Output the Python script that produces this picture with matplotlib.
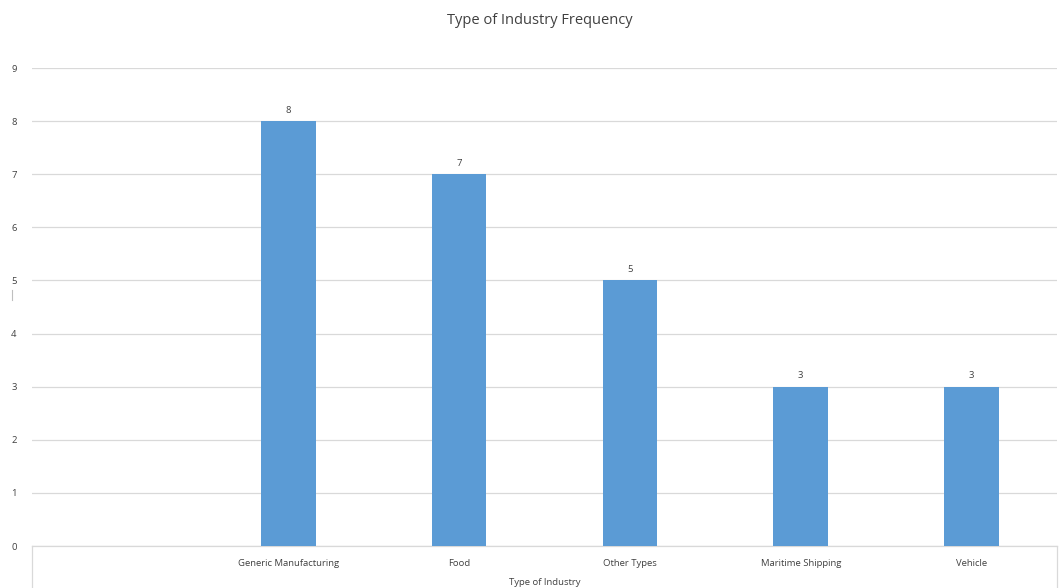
import matplotlib
matplotlib.use("Agg")
import matplotlib.pyplot as plt
from matplotlib.lines import Line2D

categories = ["", "Generic Manufacturing", "Food", "Other Types", "Maritime Shipping", "Vehicle"]
values = [None, 8, 7, 5, 3, 3]
yticks = list(range(0, 10))

plt.rcParams['font.family'] = ['Open Sans', 'DejaVu Sans']
txt = '#404040'

fig = plt.figure(figsize=(10.6, 5.88), dpi=100)
ax = fig.add_axes([32/1060, 42/588, 1025/1060, 478/588])

xs = list(range(len(categories)))
bx = [x for x, v in zip(xs, values) if v is not None]
bv = [v for v in values if v is not None]
bars = ax.bar(bx, bv, width=0.32, color='#5B9BD5', zorder=3)
for x, v in zip(bx, bv):
    ax.text(x, v + 0.12, str(v), ha='center', va='bottom', fontsize=6.8, color=txt)

ax.set_xlim(-0.5, len(categories) - 0.5)
ax.set_ylim(0, 9)
ax.set_yticks(yticks)
ax.set_yticklabels([str(t) for t in yticks], fontsize=6.8, color=txt)
ax.set_xticks(xs)
ax.set_xticklabels(categories, fontsize=6.8, color=txt)
ax.tick_params(axis='both', length=0)
ax.tick_params(axis='y', pad=11)
ax.tick_params(axis='x', pad=9)
ax.grid(axis='y', color='#D9D9D9', linewidth=0.9, zorder=0)
for s in ['top', 'right', 'left']:
    ax.spines[s].set_visible(False)
ax.spines['bottom'].set_color('#D9D9D9')
ax.spines['bottom'].set_linewidth(0.9)

# table-like box lines below the axis
for xa in [0.0, 1.0]:
    ax.add_line(Line2D([xa, xa], [0, -42/478], transform=ax.transAxes,
                       color='#D9D9D9', linewidth=0.9, clip_on=False))

ax.text(0.5, -41/478, "Type of Industry", transform=ax.transAxes,
        ha='center', va='bottom', fontsize=6.8, color=txt)

fig.text(540/1060, 1 - 20/588, "Type of Industry Frequency", ha='center', va='center',
         fontsize=10.5, color=txt)

# small stray mark at left
fig.add_artist(Line2D([12/1060, 12/1060], [1 - 290/588, 1 - 300/588],
                      transform=fig.transFigure, color='#BFBFBF', linewidth=0.8))

fig.savefig("out.png", dpi=100)
